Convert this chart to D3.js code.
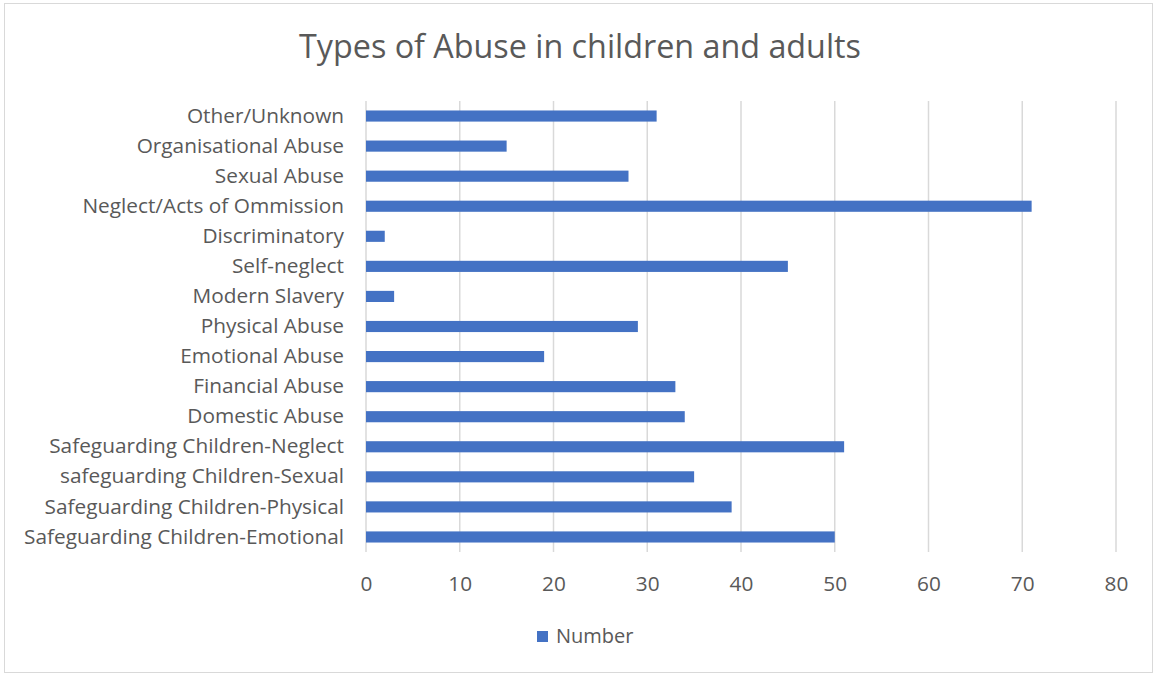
<!DOCTYPE html>
<html>
<head>
<meta charset="utf-8">
<script src="https://cdn.jsdelivr.net/npm/d3@7"></script>
<style>
  html, body { margin: 0; padding: 0; background: #fff; }
  svg { display: block; }
  text { font-family: "Open Sans", "Noto Sans", sans-serif; fill: #595959; }
</style>
</head>
<body>
<svg id="chart" width="1157" height="677"></svg>
<script>
const categories = [
  "Other/Unknown",
  "Organisational Abuse",
  "Sexual Abuse",
  "Neglect/Acts of Ommission",
  "Discriminatory",
  "Self-neglect",
  "Modern Slavery",
  "Physical Abuse",
  "Emotional Abuse",
  "Financial Abuse",
  "Domestic Abuse",
  "Safeguarding Children-Neglect",
  "safeguarding Children-Sexual",
  "Safeguarding Children-Physical",
  "Safeguarding Children-Emotional"
];
const numberValues = [31, 15, 28, 71, 2, 45, 3, 29, 19, 33, 34, 51, 35, 39, 50];
const xTicks = [0, 10, 20, 30, 40, 50, 60, 70, 80];
const seriesName = "Number";
const titleText = "Types of Abuse in children and adults";

const W = 1157, H = 677;
const m = { left: 366, right: 41, top: 101, bottom: 125 };
const svg = d3.select("#chart");

svg.append("rect").attr("x", 4.5).attr("y", 3.5).attr("width", W - 9).attr("height", H - 8)
  .attr("fill", "#fff").attr("stroke", "#d9d9d9").attr("stroke-width", 1);

const x = d3.scaleLinear().domain([0, 80]).range([m.left, W - m.right]);
const y = d3.scaleBand().domain(categories).range([m.top, H - m.bottom]).paddingInner(0.63).paddingOuter(0.315);

// gridlines
svg.append("g").selectAll("line").data(xTicks).join("line")
  .attr("x1", d => x(d)).attr("x2", d => x(d))
  .attr("y1", m.top).attr("y2", H - m.bottom)
  .attr("stroke", "#d9d9d9").attr("stroke-width", 1.5);

// bars
svg.append("g").selectAll("rect").data(categories).join("rect")
  .attr("x", x(0))
  .attr("y", d => y(d))
  .attr("width", (d, i) => x(numberValues[i]) - x(0))
  .attr("height", y.bandwidth())
  .attr("fill", "#4472c4");

// y axis labels
const yAxis = d3.axisLeft(y).tickSize(0).tickPadding(22);
const yg = svg.append("g").attr("transform", `translate(${m.left},0)`).call(yAxis);
yg.select(".domain").remove();
yg.selectAll("text").attr("font-size", 20.8).attr("fill", "#595959")
  .style("font-family", '"Open Sans", sans-serif');

// x axis labels
const xAxis = d3.axisBottom(x).tickValues(xTicks).tickSize(0).tickPadding(24);
const xg = svg.append("g").attr("transform", `translate(0,${H - m.bottom})`).call(xAxis);
xg.select(".domain").remove();
xg.selectAll("text").attr("font-size", 20.8).attr("fill", "#595959")
  .style("font-family", '"Open Sans", sans-serif');

// title
svg.append("text").attr("x", 580).attr("y", 58).attr("text-anchor", "middle")
  .attr("font-size", 32.3).text(titleText);

// legend
const lg = svg.append("g").attr("transform", "translate(537,631)");
lg.append("rect").attr("x", 0).attr("y", 0).attr("width", 11).attr("height", 11).attr("fill", "#4472c4");
lg.append("text").attr("x", 19).attr("y", 12).attr("font-size", 20).text(seriesName);
</script>
</body>
</html>
